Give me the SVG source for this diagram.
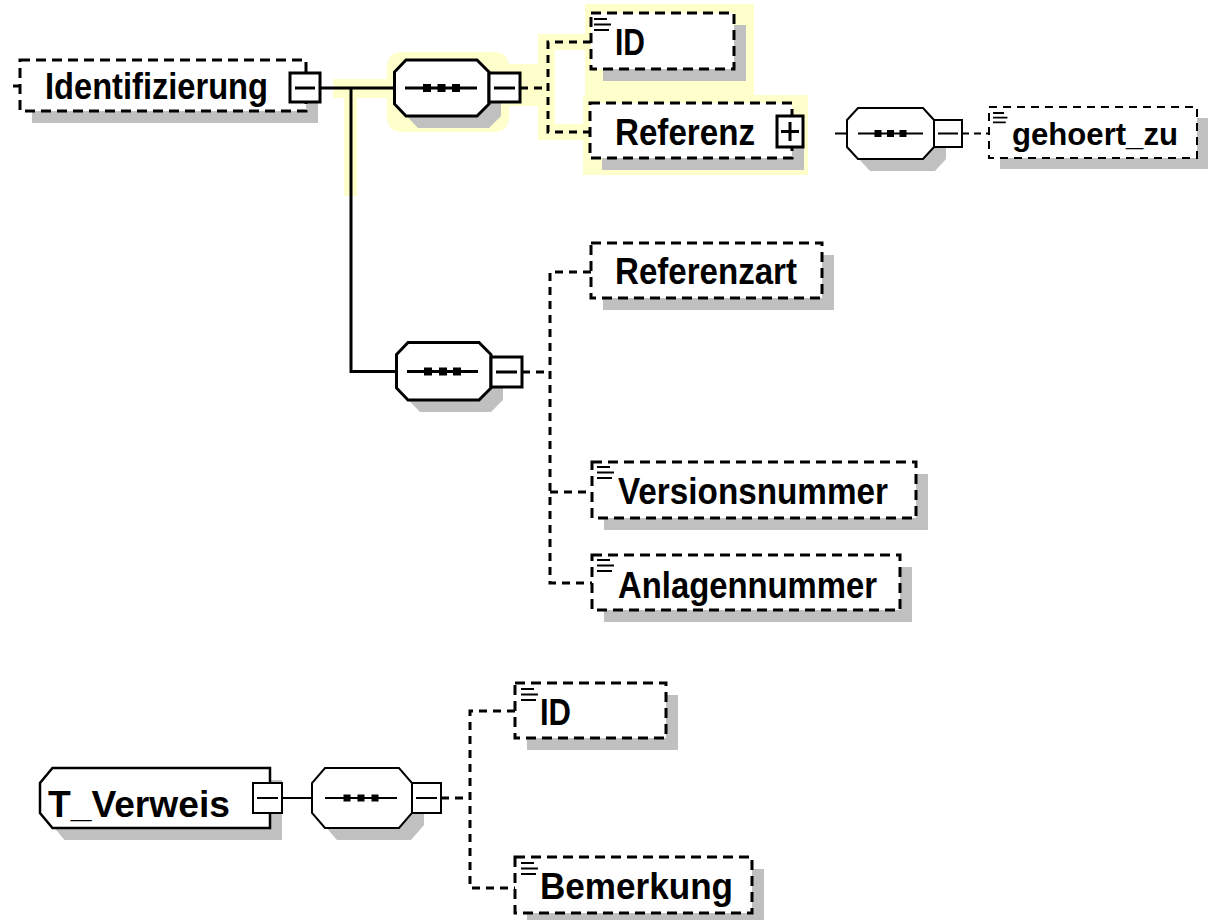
<svg xmlns="http://www.w3.org/2000/svg" xmlns:xlink="http://www.w3.org/1999/xlink" width="1209" height="920" viewBox="0 0 1209 920">
<style>
.t{font-family:"Liberation Sans",Arial,sans-serif;font-weight:bold;font-size:36px;fill:#000}
.sh{fill:#c0c0c0}
.el{fill:#fff;stroke:#000;stroke-width:3;stroke-dasharray:10 6}
.el2{fill:#fff;stroke:#000;stroke-width:2;stroke-dasharray:8 6}
.bx{fill:#fff;stroke:#000;stroke-width:3}
.bx2{fill:#fff;stroke:#000;stroke-width:2}
.ln{fill:none;stroke:#000;stroke-width:3}
.ln2{fill:none;stroke:#000;stroke-width:2}
.dl{fill:none;stroke:#000;stroke-width:3;stroke-dasharray:8 6}
.dl2{fill:none;stroke:#000;stroke-width:2;stroke-dasharray:7 5}
.hl{fill:#ffffcc}
</style>
<defs>
<path id="ic" d="M0,0h13M0,5.5h17M0,11h15" fill="none" stroke="#000" stroke-width="2.2"/>
</defs>
<rect width="1209" height="920" fill="#fff"/>
<g id="highlight" class="hl">
<rect x="333" y="79" width="64" height="19"/>
<rect x="344" y="88" width="13" height="108"/>
<rect x="387" y="52" width="122" height="80" rx="14"/>
<rect x="505" y="64" width="40" height="42"/>
<rect x="538" y="34" width="17" height="106"/>
<rect x="538" y="34" width="54" height="16"/>
<rect x="538" y="124" width="54" height="16"/>
<rect x="585" y="4" width="169" height="94"/>
<rect x="583" y="95" width="225" height="80"/>
</g>
<g id="connectors">
<path class="ln" d="M320,88H394.5"/>
<path class="ln" d="M351,88V371.5H396.5"/>
<path class="dl" d="M520,88H548M591,42H548V132H590"/>
<path class="ln2" d="M835,133.5H847"/>
<path class="dl2" d="M962,133.5H989"/>
<path class="dl" d="M522,372H550M591,272H550V583H592M550,492H592"/>
<path class="ln2" d="M282,798H312"/>
<path class="dl" d="M441,798H470M515,711H470V888H515"/>
</g>
<g id="n_identifizierung">
<rect class="sh" x="32" y="72" width="286" height="51"/>
<rect class="el" x="20" y="60" width="286" height="51"/>
<path class="ln" d="M13,86H20"/>
<text class="t" x="45" y="99" textLength="223" lengthAdjust="spacingAndGlyphs">Identifizierung</text>
<rect class="bx" x="290" y="73" width="30" height="29"/>
<path class="ln" d="M295,88H315"/>
</g>
<g id="n_seq1">
<path class="sh" transform="translate(12,12)" d="M406,60H477L489,72V104L477,116H406L394.5,104V72Z"/>
<path class="bx" d="M406,60H477L489,72V104L477,116H406L394.5,104V72Z"/>
<path class="ln" d="M405,88H477"/>
<rect x="423" y="84" width="8" height="8"/>
<rect x="437.5" y="84" width="8" height="8"/>
<rect x="452" y="84" width="8" height="8"/>
<rect class="bx" x="489" y="73" width="31" height="29"/>
<path class="ln" d="M494,88H515"/>
</g>
<g id="n_id1">
<rect class="sh" x="603" y="25" width="143" height="56"/>
<rect class="el" x="591" y="13" width="143" height="56"/>
<use xlink:href="#ic" x="594" y="19"/>
<text class="t" x="615" y="55" textLength="30" lengthAdjust="spacingAndGlyphs">ID</text>
</g>
<g id="n_referenz">
<rect class="sh" x="602" y="115" width="202" height="55"/>
<rect class="el" x="590" y="103" width="202" height="55"/>
<text class="t" x="615" y="145" textLength="140" lengthAdjust="spacingAndGlyphs">Referenz</text>
<rect class="bx" x="777" y="116" width="26" height="31"/>
<path class="ln" d="M781,131.5H799M790,122V141"/>
</g>
<g id="n_seq2">
<path class="sh" transform="translate(12,12)" d="M858,108H923L934,120V147L923,159H858L847,147V120Z"/>
<path class="bx2" d="M858,108H923L934,120V147L923,159H858L847,147V120Z"/>
<path class="ln2" d="M858,133.5H923"/>
<rect x="874.5" y="130" width="7" height="7"/>
<rect x="887" y="130" width="7" height="7"/>
<rect x="899.5" y="130" width="7" height="7"/>
<rect class="bx2" x="934" y="120" width="28" height="27"/>
<path class="ln2" d="M938,133.5H958"/>
</g>
<g id="n_gehoert_zu">
<rect class="sh" x="1000" y="118" width="208" height="51"/>
<rect class="el2" x="989" y="107" width="208" height="51"/>
<use xlink:href="#ic" transform="translate(993,113) scale(0.85)"/>
<text class="t" style="font-size:32px" x="1012" y="145" textLength="166" lengthAdjust="spacingAndGlyphs">gehoert_zu</text>
</g>
<g id="n_seq3">
<path class="sh" transform="translate(12,12)" d="M408,342.5H479L491,354.5V388L479,400H408L396.5,388V354.5Z"/>
<path class="bx" d="M408,342.5H479L491,354.5V388L479,400H408L396.5,388V354.5Z"/>
<path class="ln" d="M407,371.5H478"/>
<rect x="424" y="367.5" width="8" height="8"/>
<rect x="439" y="367.5" width="8" height="8"/>
<rect x="453" y="367.5" width="8" height="8"/>
<rect class="bx" x="491" y="357" width="31" height="30"/>
<path class="ln" d="M496,372H517"/>
</g>
<g id="n_referenzart">
<rect class="sh" x="603" y="255" width="231" height="55"/>
<rect class="el" x="591" y="243" width="231" height="55"/>
<text class="t" x="615" y="284" textLength="182" lengthAdjust="spacingAndGlyphs">Referenzart</text>
</g>
<g id="n_versionsnummer">
<rect class="sh" x="604" y="474" width="324" height="56"/>
<rect class="el" x="592" y="462" width="324" height="56"/>
<use xlink:href="#ic" x="597" y="467"/>
<text class="t" x="618" y="504" textLength="270" lengthAdjust="spacingAndGlyphs">Versionsnummer</text>
</g>
<g id="n_anlagennummer">
<rect class="sh" x="604" y="567" width="308" height="55"/>
<rect class="el" x="592" y="555" width="308" height="55"/>
<use xlink:href="#ic" x="597" y="560"/>
<text class="t" x="618" y="598" textLength="259" lengthAdjust="spacingAndGlyphs">Anlagennummer</text>
</g>
<g id="n_t_verweis">
<path class="sh" transform="translate(12,12)" d="M52.5,768H270V828H52.5L40,813V783Z"/>
<path fill="#fff" stroke="#000" stroke-width="2.5" d="M52.5,768H270V828H52.5L40,813V783Z"/>
<text class="t" x="48" y="817" textLength="182" lengthAdjust="spacingAndGlyphs">T_Verweis</text>
<rect class="bx2" x="253" y="783" width="29" height="30"/>
<path class="ln2" d="M257,798H278"/>
</g>
<g id="n_seq4">
<path class="sh" transform="translate(12,12)" d="M325,768H399L412,783V813L399,828H325L312,813V783Z"/>
<path class="bx2" d="M325,768H399L412,783V813L399,828H325L312,813V783Z"/>
<path class="ln2" d="M325,798H397"/>
<rect x="343.5" y="794.5" width="7" height="7"/>
<rect x="357.5" y="794.5" width="7" height="7"/>
<rect x="371.5" y="794.5" width="7" height="7"/>
<rect class="bx2" x="412" y="783" width="29" height="30"/>
<path class="ln2" d="M416,798H437"/>
</g>
<g id="n_id2">
<rect class="sh" x="527" y="695" width="151" height="55"/>
<rect class="el" x="515" y="683" width="151" height="55"/>
<use xlink:href="#ic" x="521" y="689"/>
<text class="t" x="540" y="725" textLength="31" lengthAdjust="spacingAndGlyphs">ID</text>
</g>
<g id="n_bemerkung">
<rect class="sh" x="527" y="869" width="237" height="56"/>
<rect class="el" x="515" y="857" width="237" height="56"/>
<use xlink:href="#ic" x="521" y="863"/>
<text class="t" x="540" y="899" textLength="193" lengthAdjust="spacingAndGlyphs">Bemerkung</text>
</g>
</svg>
